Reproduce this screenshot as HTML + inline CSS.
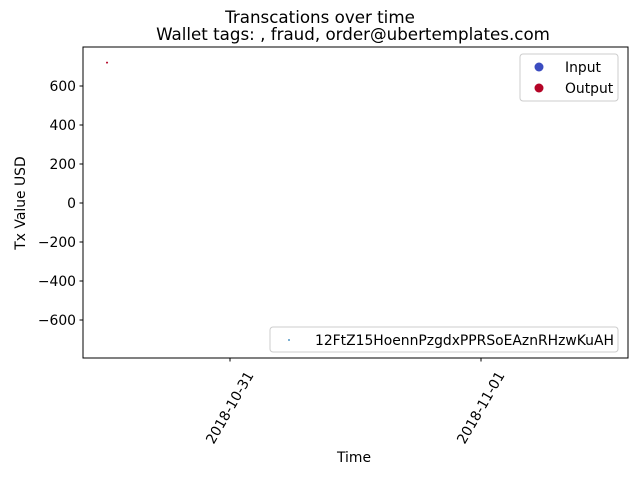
<!DOCTYPE html>
<html><head><meta charset="utf-8"><style>
body{margin:0;background:#fff}
svg{font-family:"DejaVu Sans","Liberation Sans",sans-serif}
</style></head><body>
<svg id="chart" width="640" height="480" xmlns="http://www.w3.org/2000/svg">
<rect width="640" height="480" fill="#fff"/>
<text x="320" y="23" font-size="16.7" text-anchor="middle">Transcations over time</text>
<text x="353" y="40" font-size="16.7" text-anchor="middle">Wallet tags: , fraud, order@ubertemplates.com</text>
<g id="axes"></g>
<rect x="83" y="47" width="545" height="311" fill="none" stroke="#000" stroke-width="1"/>
<text transform="translate(25,203) rotate(-90)" font-size="13.9" text-anchor="middle">Tx Value USD</text>
<text x="354" y="462" font-size="13.9" text-anchor="middle">Time</text>
<g>
<rect x="520" y="54" width="98" height="47" rx="3" fill="#fff" stroke="#ccc"/>
<circle cx="539" cy="67" r="4.5" fill="#3b4cc0"/>
<text x="565" y="72" font-size="13.9">Input</text>
<circle cx="539" cy="88" r="4.5" fill="#b40426"/>
<text x="565" y="93" font-size="13.9">Output</text>
</g>
<g>
<rect x="270" y="327" width="348" height="25" rx="3" fill="#fff" stroke="#ccc"/>
<circle cx="289" cy="340" r="0.9" fill="#1f77b4"/>
<text x="315" y="345" font-size="13.9">12FtZ15HoennPzgdxPPRSoEAznRHzwKuAH</text>
</g>
</svg>
<script>
const yTicks=[-600,-400,-200,0,200,400,600];
const yTickLabels=["\u2212600","\u2212400","\u2212200","0","200","400","600"];
const xTicks=[0,1]; // days since 2018-10-31
const xTickLabels=["2018-10-31","2018-11-01"];
const pointTimes=[-0.49]; // days since 2018-10-31
const pointValues=[720];
const pointKinds=["output"];
const NS="http://www.w3.org/2000/svg";
const g=document.getElementById('axes');
const xs=d=>230+d*251;
const ys=v=>203-v*39/200;
function mk(t,a){const e=document.createElementNS(NS,t);for(const k in a)e.setAttribute(k,a[k]);g.appendChild(e);return e;}
yTicks.forEach((v,i)=>{
 const l=mk('line',{x1:79.5,x2:83,y1:ys(v),y2:ys(v),stroke:'#000'});
 
 
 const t=mk('text',{x:76,y:ys(v)+5,'font-size':13.9,'text-anchor':'end'});
 t.textContent=yTickLabels[i];
 
 
});
xTicks.forEach((d,i)=>{
 const x=xs(d);
 const l=mk('line',{x1:x,x2:x,y1:358,y2:361.5,stroke:'#000'});
 
 
 const t=mk('text',{transform:`translate(${x+24},375) rotate(-60)`,'font-size':13.9,'text-anchor':'end'});
 t.textContent=xTickLabels[i];
 
 
});
pointTimes.forEach((d,i)=>{
 const c=mk('circle',{cx:xs(d),cy:ys(pointValues[i]),r:1,fill:pointKinds[i]==='output'?'#b40426':'#3b4cc0'});
 
 
});
</script>
</body></html>
